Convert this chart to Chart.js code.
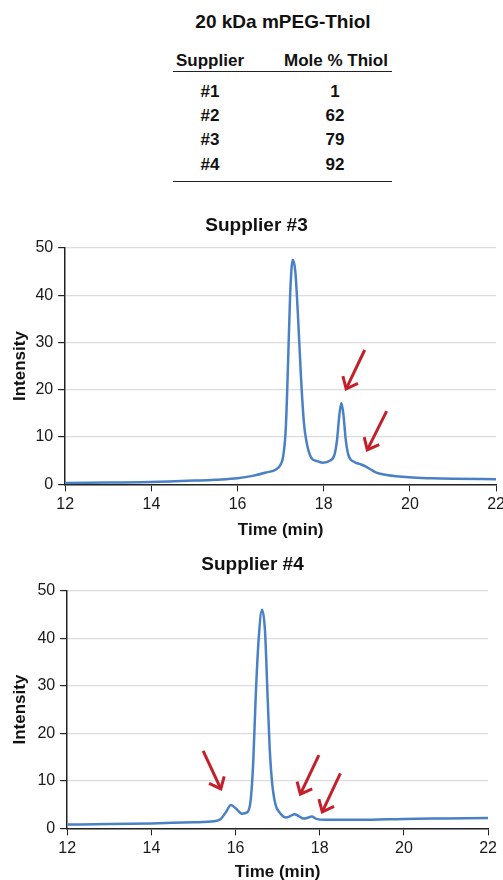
<!DOCTYPE html>
<html>
<head>
<meta charset="utf-8">
<script src="https://cdn.jsdelivr.net/npm/chart.js@4"></script>
<style>
  html, body { margin: 0; padding: 0; background: #fff; overflow: hidden; }
  body { width: 503px; height: 880px; position: relative; font-family: "Liberation Sans", Arial, sans-serif; color: #111; }
  .t { position: absolute; font-weight: bold; white-space: nowrap; transform: translate(-50%, -50%); line-height: 1; }
  .rule { position: absolute; left: 173px; width: 219px; height: 0; border-top: 1.5px solid #222; }
  #wrap3 { position: absolute; top: 205px; left: 0; width: 509px; height: 336px; }
  #wrap4 { position: absolute; top: 545px; left: 0; width: 501px; height: 338px; }
</style>
</head>
<body>
<div id="tbl"></div>
<div id="wrap3"><canvas id="chart3"></canvas></div>
<div id="wrap4"><canvas id="chart4"></canvas></div>
<script>
// table values
const tableTitle = '20 kDa mPEG-Thiol';
const headers = ['Supplier', 'Mole % Thiol'];
const suppliers = ['#1', '#2', '#3', '#4'];
const molePct = [1, 62, 79, 92];

// Supplier #3 trace
const time3 = [12.0, 13.0, 14.0, 15.0, 15.5, 16.0, 16.35, 16.66, 16.9, 17.0, 17.06, 17.12, 17.17, 17.22, 17.28, 17.34, 17.4, 17.47, 17.54, 17.6, 17.7, 17.85, 17.98, 18.14, 18.25, 18.31, 18.36, 18.41, 18.46, 18.51, 18.57, 18.72, 18.87, 18.99, 19.1, 19.22, 19.46, 19.98, 20.5, 21.0, 22.0];
const int3 = [0.3, 0.4, 0.5, 0.8, 1.0, 1.3, 1.8, 2.5, 3.2, 4.2, 6, 12, 25, 40, 47.5, 45, 36, 23, 13, 9, 5.8, 4.9, 4.6, 5.0, 6.3, 9.5, 14.5, 17.2, 14.5, 9.5, 6.3, 4.7, 4.2, 3.7, 3.1, 2.5, 2.0, 1.5, 1.3, 1.2, 1.1];

// Supplier #4 trace
const time4 = [12.0, 13.0, 14.0, 15.0, 15.5, 15.65, 15.77, 15.89, 16.01, 16.15, 16.28, 16.36, 16.42, 16.48, 16.55, 16.63, 16.7, 16.76, 16.81, 16.87, 16.95, 17.05, 17.2, 17.3, 17.4, 17.5, 17.6, 17.7, 17.81, 17.92, 18.12, 19.0, 20.0, 21.0, 22.0];
const int4 = [0.8, 0.9, 1.05, 1.3, 1.5, 2.0, 3.4, 4.9, 4.2, 3.1, 3.4, 6, 14, 28, 40, 46, 41.5, 28, 17, 9.5, 5, 3.3, 2.3, 2.6, 3.0, 2.6, 2.1, 2.2, 2.5, 2.0, 1.8, 1.8, 2.0, 2.1, 2.2];

// arrows: [tailX, tailY, headX, headY] in data units
const arrows3 = [[18.95, 28.4, 18.52, 20.2], [19.46, 15.5, 19.01, 7.3]];
const arrows4 = [[15.23, 16.3, 15.65, 8.3], [17.98, 15.4, 17.54, 7.2], [18.49, 11.6, 18.06, 3.5]];

const xTicks = [12, 14, 16, 18, 20, 22];

// table drawn as positioned text
const tbl = document.getElementById('tbl');
function addText(txt, x, y, size) {
  const d = document.createElement('div');
  d.className = 't';
  d.style.left = x + 'px';
  d.style.top = y + 'px';
  d.style.fontSize = size + 'px';
  d.textContent = txt;
  tbl.appendChild(d);
}
function addRule(y) {
  const d = document.createElement('div');
  d.className = 'rule';
  d.style.top = y + 'px';
  tbl.appendChild(d);
}
addText(tableTitle, 283, 21, 19);
addText(headers[0], 210, 60, 17);
addText(headers[1], 336, 60, 17);
addRule(71);
suppliers.forEach((s, i) => {
  const y = 91 + i * 24.2;
  addText(s, 210, y, 17);
  addText(String(molePct[i]), 335, y, 17);
});
addRule(181);

Chart.defaults.font.family = '"Liberation Sans", Arial, sans-serif';
Chart.defaults.color = '#1a1a1a';

const arrowPlugin = {
  id: 'arrows',
  afterDatasetsDraw(chart, args, opts) {
    const c = chart.ctx;
    const xs = chart.scales.x, ys = chart.scales.y;
    c.save();
    c.strokeStyle = '#c4202b';
    c.lineWidth = 3;
    c.lineCap = 'butt';
    c.lineJoin = 'miter';
    (opts.list || []).forEach(a => {
      const x1 = xs.getPixelForValue(a[0]), y1 = ys.getPixelForValue(a[1]);
      const x2 = xs.getPixelForValue(a[2]), y2 = ys.getPixelForValue(a[3]);
      const ang = Math.atan2(y2 - y1, x2 - x1);
      c.beginPath();
      c.moveTo(x1, y1);
      c.lineTo(x2, y2);
      c.stroke();
      const L = 13;
      c.beginPath();
      c.moveTo(x2 - L * Math.cos(ang - 0.7), y2 - L * Math.sin(ang - 0.7));
      c.lineTo(x2, y2);
      c.lineTo(x2 - L * Math.cos(ang + 0.7), y2 - L * Math.sin(ang + 0.7));
      c.stroke();
    });
    c.restore();
  }
};

function makeChart(id, title, times, vals, arrowList, lay) {
  return new Chart(document.getElementById(id), {
    type: 'line',
    data: {
      datasets: [{
        data: times.map((t, i) => ({ x: t, y: vals[i] })),
        borderColor: '#4a80c6',
        borderWidth: 2.5,
        pointRadius: 0,
        cubicInterpolationMode: 'monotone',
        fill: false
      }]
    },
    options: {
      responsive: true,
      maintainAspectRatio: false,
      animation: false,
      layout: { padding: { left: 4, right: 0, top: 0, bottom: 0 } },
      plugins: {
        legend: { display: false },
        tooltip: { enabled: false },
        title: {
          display: true,
          text: title,
          color: '#111',
          font: { size: 19, weight: 'bold' },
          padding: { top: lay.titleTop, bottom: lay.titleBottom }
        },
        arrows: { list: arrowList }
      },
      scales: {
        x: {
          type: 'linear',
          min: 12,
          max: 22,
          afterBuildTicks: axis => { axis.ticks = xTicks.map(v => ({ value: v })); },
          ticks: { color: '#1a1a1a', font: { size: 16 }, padding: 4, maxRotation: 0 },
          grid: { drawOnChartArea: false, drawTicks: true, tickLength: 7, tickColor: '#222' },
          border: { color: '#222', width: 1.5 },
          title: { display: true, text: 'Time (min)', color: '#111', font: { size: 17, weight: 'bold' }, padding: { top: lay.xTitleTop, bottom: 0 } }
        },
        y: {
          min: 0,
          max: 50,
          ticks: { stepSize: 10, color: '#1a1a1a', font: { size: 16 }, padding: lay.yTickPad },
          grid: { color: '#dcdcdc', lineWidth: 1.2, drawTicks: true, tickLength: 7, tickColor: '#222' },
          border: { color: '#222', width: 1.5 },
          title: { display: true, text: 'Intensity', color: '#111', font: { size: 17, weight: 'bold' }, padding: { top: 6, bottom: lay.yTitleBottom } }
        }
      }
    },
    plugins: [arrowPlugin]
  });
}

makeChart('chart3', 'Supplier #3', time3, int3, arrows3, { titleTop: 9, titleBottom: 11, yTickPad: 5, yTitleBottom: 0, xTitleTop: 2 });
makeChart('chart4', 'Supplier #4', time4, int4, arrows4, { titleTop: 8, titleBottom: 15, yTickPad: 5, yTitleBottom: 2, xTitleTop: 0 });
</script>
</body>
</html>
